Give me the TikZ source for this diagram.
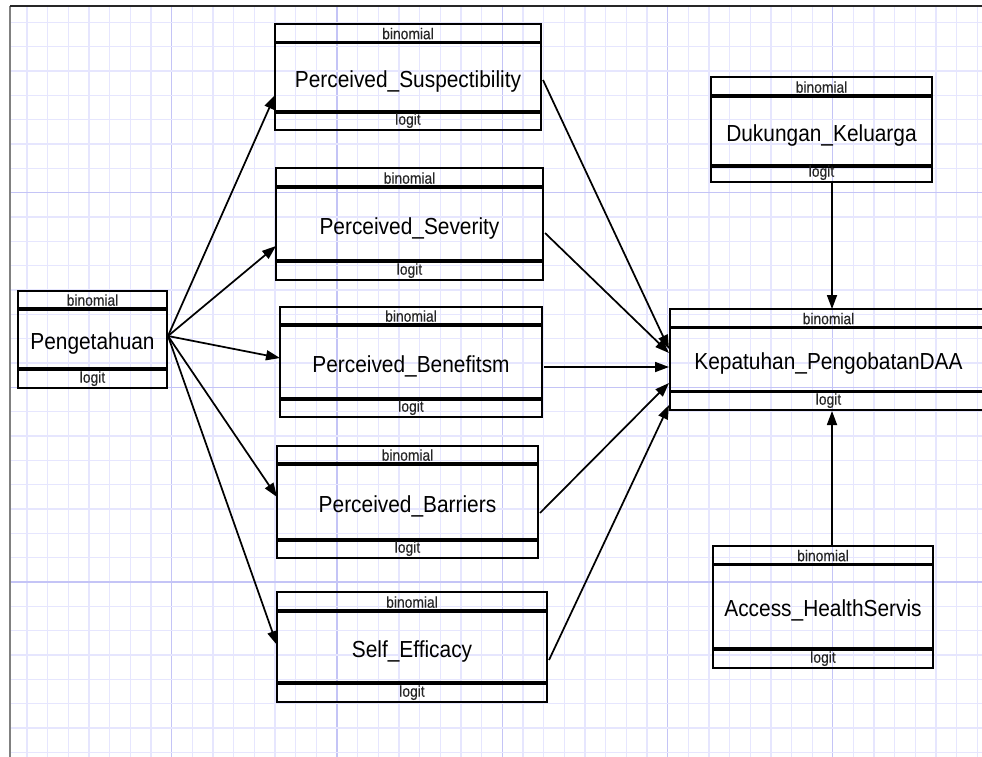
\documentclass[tikz,border=0pt]{standalone}
\usepackage{fontspec}
\usepackage{graphicx}
\setmainfont{Liberation Sans}
\newfontfamily\labelfont[FakeBold=0.35]{Liberation Sans}
\usetikzlibrary{arrows.meta,calc,fit}

\definecolor{gridminor}{RGB}{230,230,254}
\definecolor{gridmajor}{RGB}{196,196,246}
\definecolor{framegray}{RGB}{128,128,128}

\tikzset{
  boxframe/.style={draw=black, line width=1.7pt, rectangle, inner sep=0pt, outer sep=0pt},
  sepline/.style={draw=black, line width=2.6pt},
  smalltext/.style={anchor=base, inner sep=0pt, text=black!85,
    font=\labelfont\fontsize{11.8}{13}\selectfont},
  nametext/.style={anchor=base, inner sep=0pt, text=black,
    font=\fontsize{17.4}{20}\selectfont},
  conn/.style={draw=black, line width=1.3pt, -{Triangle[length=10.5pt,width=7.5pt]}},
  gridline/.style={line width=1pt}
}

% a model variable box: name, left, top, right, bottom, upper separator, lower separator, title
\newcommand{\modelbox}[8]{%
  \node[boxframe, fit={(#2,#3) (#4,#5)}] (#1) {};
  \draw[sepline] (#2,#6) -- (#4,#6);
  \draw[sepline] (#2,#7) -- (#4,#7);
  \node[smalltext] (#1-bin) at ({(#2+#4)/2},{#6-3.3}) {\scalebox{0.88}[1]{binomial}};
  \node[smalltext] (#1-logit) at ({(#2+#4)/2},{#5-5.3}) {\scalebox{0.88}[1]{logit}};
  \node[nametext] (#1-name) at ({(#2+#4)/2},{(#6+#7)/2+10}) {\scalebox{0.9}[1]{#8}};
}

\begin{document}
\begin{tikzpicture}[x=0.75pt, y=-0.75pt]
  \clip (0,0) rectangle (982,757);
  \fill[white] (0,0) rectangle (982,757);

  % background grid: light minor lines, every eighth line stronger
  \foreach \k in {-7,...,39}{
    \pgfmathtruncatemacro\m{mod(\k+80,8)}
    \ifnum\m=0 \def\gc{gridmajor}\else\def\gc{gridminor}\fi
    \draw[gridline,\gc] ({171.7+20.66*\k},6) -- ({171.7+20.66*\k},760);
  }
  \foreach \k in {-7,...,23}{
    \pgfmathtruncatemacro\m{mod(\k+80,8)}
    \ifnum\m=0 \def\gc{gridmajor}\else\def\gc{gridminor}\fi
    \draw[gridline,\gc] (10,{192.7+24.33*\k}) -- (985,{192.7+24.33*\k});
  }

  % canvas frame
  \draw[framegray, line width=1.1pt] (10,6) -- (10,760);
  \draw[black!85, line width=1.1pt] (10,6) -- (985,6);

  % variables
  \modelbox{peng}{18}{291}{167}{388}{309}{369}{Pengetahuan}
  \modelbox{susp}{275}{24}{541}{130}{42.5}{112}{Perceived\_Suspectibility}
  \modelbox{sev}{276}{168}{543}{280}{187}{261}{Perceived\_Severity}
  \modelbox{ben}{280}{307}{542}{417}{325}{399}{Perceived\_Benefitsm}
  \modelbox{bar}{277}{446}{538}{558}{464}{540}{Perceived\_Barriers}
  \modelbox{self}{277}{592}{547}{702}{611}{683}{Self\_Efficacy}
  \modelbox{kep}{670}{309}{987}{410}{327.5}{391.5}{Kepatuhan\_PengobatanDAA}
  \modelbox{duk}{711}{77}{932}{182}{96}{166}{Dukungan\_Keluarga}
  \modelbox{acc}{713}{546}{933}{668}{564.5}{649}{Access\_HealthServis}

  % Pengetahuan to the five perception variables
  \draw[conn] ($(peng.east)+(1,-3.5)$) -- ($(susp.west)+(0,18)$);
  \draw[conn] ($(peng.east)+(1,-3.5)$) -- ($(sev.west)+(0,22)$);
  \draw[conn] ($(peng.east)+(1,-3.5)$) -- ($(ben.west)+(0,-4)$);
  \draw[conn] ($(peng.east)+(1,-3.5)$) -- ($(bar.west)+(0,-5)$);
  \draw[conn] ($(peng.east)+(1,-3.5)$) -- ($(self.west)+(0,-2)$);

  % perception variables to Kepatuhan
  \draw[conn] ($(susp.east)+(2,3)$) -- ($(kep.west)+(-1,-10.5)$);
  \draw[conn] ($(sev.east)+(2,9)$) -- ($(kep.west)+(-1,-6.5)$);
  \draw[conn] ($(ben.east)+(2,5)$) -- ($(kep.west)+(-1,7.5)$);
  \draw[conn] ($(bar.east)+(2,11)$) -- ($(kep.west)+(-1,23.5)$);
  \draw[conn] ($(self.east)+(2,13)$) -- ($(kep.west)+(-1,45.5)$);

  % family support and health access
  \draw[conn] ($(duk.south)+(10.5,1)$) -- ($(kep.north)+(3.5,0)$);
  \draw[conn] ($(acc.north)+(9,-1)$) -- ($(kep.south)+(3.5,1)$);
\end{tikzpicture}
\end{document}
